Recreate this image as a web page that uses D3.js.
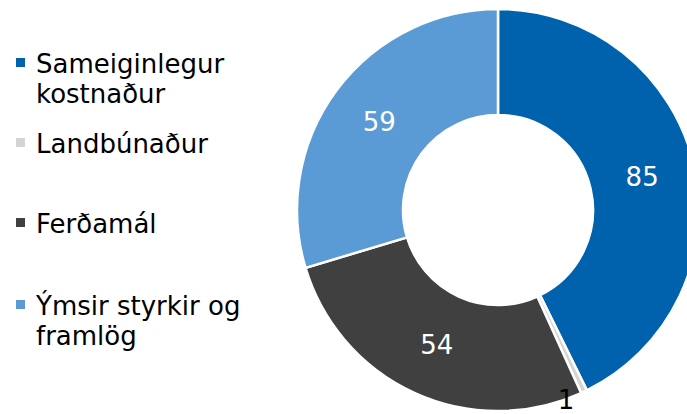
<!DOCTYPE html>
<html><head><meta charset="utf-8">
<script src="https://cdn.jsdelivr.net/npm/d3@7"></script>
<style>html,body{margin:0;padding:0;background:#fff;overflow:hidden}</style>
</head><body>
<svg id="c" width="687" height="414"></svg>
<script>
const categories = ["Sameiginlegur kostnaður", "Landbúnaður", "Ferðamál", "Ýmsir styrkir og framlög"];
const legendLines = [["Sameiginlegur", "kostnaður"], ["Landbúnaður"], ["Ferðamál"], ["Ýmsir styrkir og", "framlög"]];
const values = [85, 1, 54, 59];
const colors = ["#0062AD", "#D4D4D4", "#404040", "#5B9BD5"];
const labelColors = ["#ffffff", "#000000", "#ffffff", "#ffffff"];

const svg = d3.select("#c");
const font = "'DejaVu Sans', Verdana, sans-serif";
const cx = 498, cy = 210, rOuter = 201, rInner = 95;

const pie = d3.pie().sort(null).value(d => d)(values);
const arc = d3.arc().innerRadius(rInner).outerRadius(rOuter);
const g = svg.append("g").attr("transform", `translate(${cx},${cy})`);

g.selectAll("path").data(pie).join("path")
  .attr("d", arc)
  .attr("fill", (d, i) => colors[i])
  .attr("stroke", "#fff").attr("stroke-width", 2.5);

const outerArc = d3.arc().innerRadius(rOuter).outerRadius(rOuter);
g.selectAll("text").data(pie).join("text")
  .attr("transform", (d, i) => {
    if (d.value < 5) {
      const [x, y] = outerArc.centroid(d);
      return `translate(${x - 18},${y + 8})`;
    }
    const [x, y] = arc.centroid(d);
    return `translate(${x},${y})`;
  })
  .attr("text-anchor", "middle").attr("dy", "0.36em")
  .attr("font-family", font).attr("font-size", 26)
  .attr("fill", (d, i) => labelColors[i])
  .text(d => d.value);

// legend
const legendY = [73, 153, 233, 315];
const lg = svg.append("g");
legendLines.forEach((lines, i) => {
  lg.append("rect").attr("x", 16).attr("y", legendY[i] - 15).attr("width", 9).attr("height", 9)
    .attr("fill", colors[i]);
  const t = lg.append("text").attr("x", 36).attr("y", legendY[i])
    .attr("font-family", font).attr("font-size", 26).attr("fill", "#000");
  lines.forEach((l, j) => t.append("tspan").attr("x", 36).attr("dy", j === 0 ? 0 : 30).text(l));
});
</script>
</body></html>
